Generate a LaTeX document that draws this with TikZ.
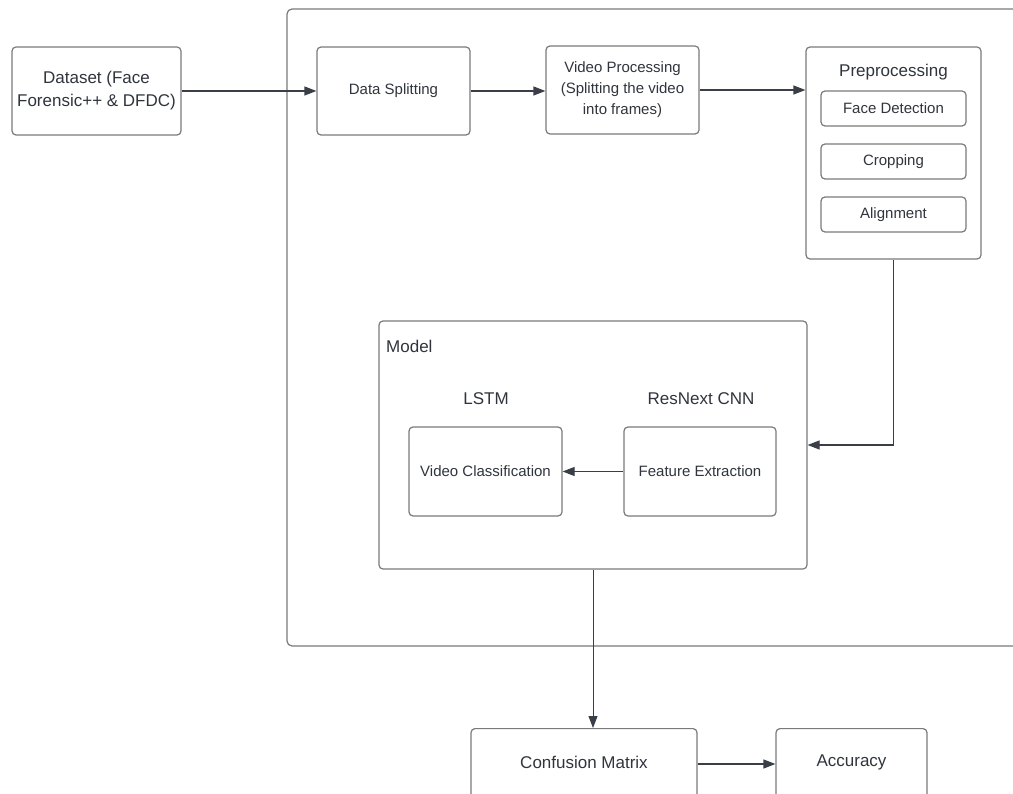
\documentclass[tikz,border=0pt]{standalone}
\usepackage{fontspec}
\setmainfont{Liberation Sans}
\usetikzlibrary{arrows.meta,calc}
\definecolor{edgegray}{HTML}{7A7A7A}
\definecolor{inkdark}{HTML}{3A3F47}
\definecolor{txt}{HTML}{30353D}
\tikzset{
  box/.style={draw=edgegray, line width=1.2pt, rounded corners=4pt, inner sep=0pt, align=center, text=txt},
  big/.style={font=\fontsize{17}{23}\selectfont},
  small/.style={font=\fontsize{15}{21}\selectfont},
  lbl/.style={text=txt, inner sep=0pt},
  arr/.style={draw=inkdark, line width=1.2pt, -{Triangle[length=12pt,width=9pt]}},
}
\begin{document}
\begin{tikzpicture}[x=1pt,y=-1pt]
\useasboundingbox (0,0) rectangle (1013,794);
\clip (0,0) rectangle (1013,794);
\fill[white] (0,0) rectangle (1013,794);

% outer container (runs off the right edge)
\draw[edgegray, line width=1.2pt, rounded corners=5pt] (287,9) rectangle (1040,646);

% top row
\node[box, big, minimum width=169, minimum height=88] (data) at (96.5,91) {Dataset (Face\\Forensic++ \& DFDC)};
\node[box, small, minimum width=153, minimum height=88] (split) at (393.5,91) {Data Splitting};
\node[box, small, minimum width=153, minimum height=88] (vp) at (622.5,90) {Video Processing\\(Splitting the video\\into frames)};

% preprocessing group
\node[box, minimum width=175, minimum height=212] (pre) at (893.5,153) {};
\node[lbl, big] (pretitle) at (893.5,72) {Preprocessing};
\node[box, small, minimum width=145, minimum height=35] (fd) at (893.5,108.5) {Face Detection};
\node[box, small, minimum width=145, minimum height=35] (crop) at (893.5,161.5) {Cropping};
\node[box, small, minimum width=145, minimum height=35] (align) at (893.5,214.5) {Alignment};

% model group
\node[box, minimum width=428, minimum height=248] (model) at (593,445) {};
\node[lbl, big, anchor=west] (modeltitle) at (386,346) {Model};
\node[lbl, big] (lstm) at (486,399) {LSTM};
\node[lbl, big] (resnext) at (701,399) {ResNext CNN};
\node[box, small, minimum width=153, minimum height=89] (vc) at (485.5,471.5) {Video Classification};
\node[box, small, minimum width=152, minimum height=89] (fe) at (700,471.5) {Feature Extraction};

% evaluation boxes (run off the bottom edge)
\node[box, anchor=north, minimum width=226, minimum height=100] (cm) at (584,728) {};
\node[lbl, big] (cmtext) at (584,762) {Confusion Matrix};
\node[box, anchor=north, minimum width=151, minimum height=100] (acc) at (851.5,728) {};
\node[lbl, big] (acctext) at (851.5,762) {Accuracy};

% connectors
\draw[arr] (data.east) -- (data.east -| split.west);
\draw[arr] (split.east) -- (split.east -| vp.west);
\draw[arr] (vp.east) -- (vp.east -| pre.west);
\draw[arr] (pre.south) |- (model.east);
\draw[arr] (fe.west) -- (vc.east);
\draw[arr, line width=0.9pt] (model.south) -- (model.south |- cm.north);
\draw[arr] ($(cmtext -| cm.east)+(0,2)$) -- ($(cmtext -| acc.west)+(0,2)$);
\end{tikzpicture}
\end{document}
